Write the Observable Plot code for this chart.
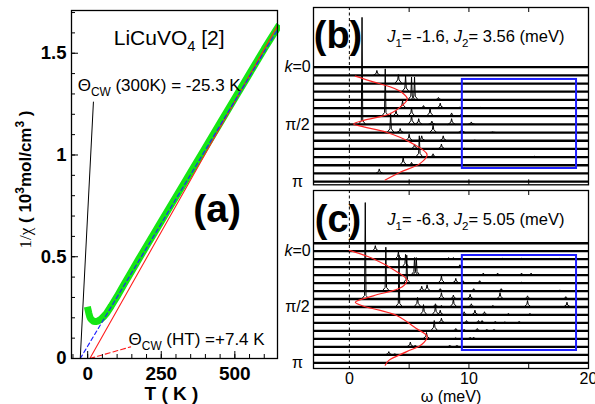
<!DOCTYPE html>
<html><head><meta charset="utf-8">
<script src="https://cdn.jsdelivr.net/npm/d3@7"></script>
<script src="https://cdn.jsdelivr.net/npm/@observablehq/plot@0.6"></script>
<style>
html,body{margin:0;padding:0;background:#fff;overflow:hidden;}
#root{position:relative;width:595px;height:404px;overflow:hidden;background:#fff;}
.panel{position:absolute;}
</style></head><body><div id="root"></div>
<script>
const FONT = "'Liberation Sans', Arial, Helvetica, sans-serif";

// ---------- Panel (a) data ----------
const aT = [1.5, 4, 7, 10, 15, 20, 27, 35, 45, 55, 65, 80, 100, 125, 150, 175, 200, 250, 300, 350, 400, 450, 500, 550, 600, 645];
const aInvChi = [0.238, 0.222, 0.206, 0.196, 0.188, 0.183, 0.181, 0.184, 0.193, 0.207, 0.224, 0.258, 0.305, 0.368, 0.43, 0.492, 0.553, 0.674, 0.795, 0.916, 1.037, 1.158, 1.279, 1.4, 1.521, 1.625];
const aFit300 = [{T: -25.3, v: 0}, {T: 645, v: 1.615}];
const aFitHT = [{T: 7.4, v: 0}, {T: 645, v: 1.635}];
const aLeader300 = [{T: -25.3, v: 0}, {T: 19.5, v: 1.26}];
const aLeaderHT = [{T: 7.4, v: 0}, {T: 146, v: 0.057}];
const aXMinor = [-50, 0, 50, 100, 150, 200, 250, 300, 350, 400, 450, 500, 550, 600];
const aXMajor = [0, 250, 500];
const aYMinor = [0.1, 0.2, 0.3, 0.4, 0.5, 0.6, 0.7, 0.8, 0.9, 1.0, 1.1, 1.2, 1.3, 1.4, 1.5, 1.6, 1.7];
const aYMajor = [0, 0.5, 1, 1.5];
const aNotes = [
  {T: 277, v: 1.575, t: "LiCuVO4 [2]", anchor: "middle"},
  {T: -34, v: 1.342, t: "ΘCW (300K) = -25.3 K", anchor: "start"},
  {T: 139, v: 0.095, t: "ΘCW (HT) =+7.4 K", anchor: "start"}
];

// ---------- Panels (b),(c) data ----------
const bLines = [0, 1, 2, 3, 4, 5, 6, 7, 8, 9, 10, 11, 12, 13, 14];
const cLines = [-1, 0, 1, 2, 3, 4, 5, 6, 7, 8, 9, 10, 11, 12, 13, 14];
const rowLabels = [{row: 0, t: "k=0"}, {row: 7, t: "π/2"}, {row: 14, t: "π"}];
const bPeaks = [
  {row: 1, peaks: [[2.3, 0.6]]},
  {row: 2, peaks: [[4.1, 1.1]]},
  {row: 3, peaks: [[4.7, 2.0]]},
  {row: 4, peaks: [[5.2, 2.8], [5.45, 2.8], [7.45, 0.3], [9.3, 0.1]]},
  {row: 5, peaks: [[4.45, 0.9], [6.2, 0.3], [7.6, 0.6], [9.25, 0.15], [11.0, 0.1]]},
  {row: 6, peaks: [[3.0, 5.8], [3.9, 0.7], [5.2, 1.0], [6.75, 1.0], [8.55, 0.4], [9.3, 0.2]]},
  {row: 7, peaks: [[1.06, 13.1], [5.2, 1.1], [5.8, 0.7], [6.9, 0.4], [8.55, 0.7], [10.2, 0.3]]},
  {row: 8, peaks: [[3.45, 2.4], [4.25, 0.5], [7.0, 0.9], [9.4, 0.45], [12.0, 0.1]]},
  {row: 9, peaks: [[5.0, 0.8], [6.05, 0.6], [7.85, 0.6], [10.5, 0.1]]},
  {row: 10, peaks: [[5.45, 0.6], [7.7, 0.6], [9.6, 0.1]]},
  {row: 11, peaks: [[5.85, 2.6], [7.0, 0.4], [15.5, 0.1]]},
  {row: 12, peaks: [[4.5, 1.0], [5.2, 0.35]]},
  {row: 13, peaks: [[2.5, 0.55]]}
];
const cPeaks = [
  {row: 0, peaks: [[2.17, 0.7]]},
  {row: 1, peaks: [[4.1, 0.9], [8.3, 0.2], [8.7, 0.2], [12.8, 0.1], [14.4, 0.1], [17.6, 0.1]]},
  {row: 2, peaks: [[4.7, 1.6], [9.25, 0.3]]},
  {row: 3, peaks: [[5.45, 2.2], [5.6, 2.2], [11.2, 0.25], [12.4, 0.25], [14.4, 0.25], [15.2, 0.25]]},
  {row: 4, peaks: [[4.8, 3.5], [7.7, 0.9], [8.9, 0.6], [9.5, 0.3], [10.9, 0.3], [14.4, 0.1]]},
  {row: 5, peaks: [[3.05, 5.5], [6.05, 0.6], [6.5, 0.8], [7.6, 0.3], [10.4, 0.3], [12.7, 0.3], [17.6, 0.15]]},
  {row: 6, peaks: [[1.33, 12.1], [7.7, 0.8], [8.7, 0.5], [10.1, 0.6], [12.6, 0.8], [14.9, 0.4], [18.1, 0.3]]},
  {row: 7, peaks: [[4.15, 6.5], [5.7, 1.2], [7.2, 0.4], [7.7, 0.2], [8.7, 1.0], [10.2, 0.4], [12.0, 0.2], [14.9, 0.8], [18.2, 0.6]]},
  {row: 8, peaks: [[6.2, 1.3], [7.2, 1.2], [7.6, 0.6], [9.6, 0.4], [10.5, 0.6], [11.3, 0.4], [13.3, 0.2], [15.1, 0.2]]},
  {row: 9, peaks: [[7.7, 0.6], [9.8, 0.3], [10.8, 0.3], [11.1, 0.3], [12.2, 0.2], [13.0, 0.15], [14.2, 0.2]]},
  {row: 10, peaks: [[7.1, 1.3], [8.9, 0.3], [9.6, 0.2], [10.7, 0.3], [11.5, 0.2], [12.1, 0.2]]},
  {row: 11, peaks: [[6.45, 0.8], [8.9, 0.15], [10.1, 0.2], [10.4, 0.2]]},
  {row: 12, peaks: [[5.1, 0.6], [5.5, 0.2], [8.4, 0.2], [9.0, 0.2]]},
  {row: 13, peaks: [[3.3, 0.4], [3.8, 0.15]]}
];
const bRed = [[0.5, 1.1], [2.0, 1.8], [3.4, 2.4], [4.4, 3.1], [4.85, 3.9], [4.4, 4.7], [3.4, 5.7], [1.2, 6.5], [0.35, 6.95], [1.2, 7.3], [3.1, 7.96], [5.1, 9.2], [6.5, 10.7], [5.9, 11.8], [4.25, 12.85], [3.0, 13.8]];
const cRed = [[0.0, -0.1], [2.0, 0.95], [4.0, 2.6], [4.8, 3.6], [4.4, 4.5], [2.0, 5.6], [0.5, 6.4], [1.2, 6.9], [2.5, 7.4], [4.0, 8.1], [5.6, 9.7], [6.5, 10.7], [6.05, 11.7], [4.8, 12.6], [3.3, 13.7], [3.0, 14.3]];
const bBox = [{x1: 9.45, x2: 19, y1: 1.5, y2: 12.4}];
const cBox = [{x1: 9.45, x2: 19, y1: 0.54, y2: 12.46}];
const wTicks = [5, 10, 15];
const wLabels = [0, 10, 20];

// ---------- helpers ----------
function richify(svg, map) {
  d3.select(svg).selectAll("text").each(function () {
    const key = this.textContent;
    const spec = map[key];
    if (!spec) return;
    const fs = spec.size;
    const el = d3.select(this);
    el.text(null);
    let shift = 0;
    spec.segs.forEach((s) => {
      const ts = el.append("tspan").text(s.t);
      const target = s.sub ? fs * 0.3 : s.sup ? -fs * 0.38 : 0;
      const dy = target - shift;
      shift = target;
      if (dy) ts.attr("dy", dy);
      if (s.sub || s.sup) ts.attr("font-size", fs * 0.7);
      if (s.i) ts.attr("font-style", "italic");
      if (s.f) ts.attr("font-family", s.f);
      if (s.w) ts.attr("font-weight", s.w);
    });
  });
}

function spectrum(panelPeaks) {
  const pts = [];
  for (const {row, peaks} of panelPeaks) {
    peaks.forEach(([w, h], j) => {
      const id = row + ":" + j;
      const s = Math.min(0.45, h * 0.4);
      pts.push({id, x: w - 0.3, y: row}, {id, x: w - 0.06, y: row - s}, {id, x: w, y: row - h},
               {id, x: w + 0.06, y: row - s}, {id, x: w + 0.3, y: row});
    });
  }
  return pts;
}

const root = document.getElementById("root");
function place(svg, left, top, w, h) {
  const d = document.createElement("div");
  d.className = "panel";
  d.style.left = left + "px"; d.style.top = top + "px";
  d.style.width = w + "px"; d.style.height = h + "px";
  d.appendChild(svg);
  root.appendChild(d);
}

// ---------- Panel (a) ----------
const aW = 280, aH = 404, aML = 71, aMR = 3, aMT = 10, aMB = 46;
const aFW = aW - aML - aMR, aFH = aH - aMT - aMB;
const aData = aT.map((T, i) => ({T, v: aInvChi[i]}));
const plotA = Plot.plot({
  width: aW, height: aH,
  marginLeft: aML, marginRight: aMR, marginTop: aMT, marginBottom: aMB,
  x: {domain: [-55, 645], axis: null},
  y: {domain: [0, 1.71], axis: null},
  style: {fontFamily: FONT, background: "white", color: "black", overflow: "visible"},
  marks: [
    Plot.line(aData, {x: "T", y: "v", stroke: "#14e614", strokeWidth: 7, strokeLinecap: "square", strokeLinejoin: "miter"}),
    Plot.line(aFitHT, {x: "T", y: "v", stroke: "#ff1e1e", strokeWidth: 1.1}),
    Plot.line(aFit300, {x: "T", y: "v", stroke: "#2020ff", strokeWidth: 1.2, strokeDasharray: "4,3"}),
    Plot.line(aLeaderHT, {x: "T", y: "v", stroke: "#ff1e1e", strokeWidth: 1.1, strokeDasharray: "5,3"}),
    Plot.line(aLeader300, {x: "T", y: "v", stroke: "black", strokeWidth: 1}),
    Plot.frame({stroke: "black", strokeWidth: 1.3}),
    Plot.tickX(aXMinor, {x: (d) => d, insetTop: aFH - 4, stroke: "black"}),
    Plot.tickX(aXMajor, {x: (d) => d, insetTop: aFH - 7, stroke: "black"}),
    Plot.tickY(aYMinor, {y: (d) => d, insetRight: aFW - 4, stroke: "black"}),
    Plot.tickY(aYMajor, {y: (d) => d, insetRight: aFW - 7, stroke: "black"}),
    Plot.text(aXMajor, {x: (d) => d, frameAnchor: "bottom", lineAnchor: "middle", dy: 15, text: (d) => String(d), fontSize: 19, fontWeight: "bold"}),
    Plot.text(aYMajor, {y: (d) => d, frameAnchor: "left", lineAnchor: "middle", dx: -5, textAnchor: "end", text: (d) => String(d), fontSize: 18.5, fontWeight: "bold"}),
    Plot.text(["T ( K )"], {frameAnchor: "bottom", lineAnchor: "middle", textAnchor: "middle", dx: -3, dy: 35, text: (d) => d, fontSize: 19, fontWeight: "bold"}),
    Plot.text(["1/χ ( 103mol/cm3 )"], {frameAnchor: "left", lineAnchor: "middle", textAnchor: "middle", dx: -46, dy: -5, rotate: -90, text: (d) => d, fontSize: 17, fontWeight: "bold"}),
    Plot.text(aNotes.filter((d) => d.anchor === "middle"), {x: "T", y: "v", text: "t", fontSize: 21, textAnchor: "middle"}),
    Plot.text(aNotes.filter((d) => d.anchor === "start"), {x: "T", y: "v", text: "t", fontSize: 17, textAnchor: "start"}),
    Plot.text(["(a)"], {x: () => 440, y: () => 0.733, text: (d) => d, fontSize: 39, fontWeight: "bold"})
  ]
});
richify(plotA, {
  "LiCuVO4 [2]": {size: 21, segs: [{t: "LiCuVO"}, {t: "4", sub: true}, {t: " [2]"}]},
  "ΘCW (300K) = -25.3 K": {size: 17, segs: [{t: "Θ"}, {t: "CW", sub: true}, {t: " (300K) = -25.3 K"}]},
  "ΘCW (HT) =+7.4 K": {size: 17, segs: [{t: "Θ"}, {t: "CW", sub: true}, {t: " (HT) =+7.4 K"}]},
  "1/χ ( 103mol/cm3 )": {size: 17, segs: [{t: "1/χ", f: "'Liberation Serif', 'Times New Roman', serif", w: "normal"}, {t: " ( 10"}, {t: "3", sup: true}, {t: "mol/cm"}, {t: "3", sup: true}, {t: " )"}]}
});
place(plotA, 0, 0, aW, aH);

// ---------- Panels (b), (c) ----------
function specPanel(o) {
  const W = 315, ML = 33, MR = 7;
  const FH = o.height - o.mt - o.mb;
  const svg = Plot.plot({
    width: W, height: o.height,
    marginLeft: ML, marginRight: MR, marginTop: o.mt, marginBottom: o.mb,
    x: {domain: [-3, 20], axis: null},
    y: {domain: o.yDomain, axis: null},
    style: {fontFamily: FONT, background: "white", color: "black", overflow: "visible"},
    marks: [
      Plot.ruleY(o.lines, {y: (d) => d, stroke: "black", strokeWidth: 2.3}),
      Plot.ruleX([0], {stroke: "black", strokeWidth: 1, strokeDasharray: "3,2.5"}),
      Plot.line(spectrum(o.peaks), {x: "x", y: "y", z: "id", stroke: "black", strokeWidth: 1}),
      Plot.line(o.red, {x: (d) => d[0], y: (d) => d[1], curve: "catmull-rom", stroke: "#ff2424", strokeWidth: 1.2}),
      Plot.rect(o.box, {x1: "x1", x2: "x2", y1: "y1", y2: "y2", fill: "none", stroke: "#1e1eff", strokeWidth: 2}),
      Plot.frame({stroke: "black", strokeWidth: 1.3}),
      Plot.tickX(wTicks, {x: (d) => d, insetBottom: FH - 5, stroke: "black"}),
      Plot.tickX(wTicks, {x: (d) => d, insetTop: FH - 5, stroke: "black"}),
      Plot.text(rowLabels, {y: "row", text: "t", frameAnchor: "left", lineAnchor: "middle", dx: -16, textAnchor: "middle", fontSize: 16}),
      Plot.text([o.label], {x: () => -0.95, y: () => o.labelRow, text: (d) => d, fontSize: 38, fontWeight: "bold"}),
      Plot.text([o.jtext], {x: () => 10.58, y: () => o.jRow, text: (d) => d, fontSize: 16.5}),
      ...(o.xlabels ? [
        Plot.text(wLabels, {x: (d) => d, frameAnchor: "bottom", lineAnchor: "middle", dy: 10.5, text: (d) => String(d), fontSize: 16}),
        Plot.text(["ω (meV)"], {frameAnchor: "bottom", lineAnchor: "middle", textAnchor: "middle", dy: 28, text: (d) => d, fontSize: 16})
      ] : [])
    ]
  });
  const map = {"k=0": {size: 16, segs: [{t: "k", i: true}, {t: "=0"}]}};
  map[o.jtext] = {size: 16.5, segs: [{t: "J", i: true}, {t: "1", sub: true}, {t: o.j1}, {t: "J", i: true}, {t: "2", sub: true}, {t: o.j2}]};
  richify(svg, map);
  return svg;
}

const plotB = specPanel({
  height: 188, mt: 7, mb: 3.7, yDomain: [14.394, -7.307],
  lines: bLines, peaks: bPeaks, red: bRed, box: bBox,
  label: "(b)", labelRow: -3.88, jtext: "J1= -1.6, J2= 3.56 (meV)", j1: "= -1.6, ", j2: "= 3.56 (meV)", jRow: -3.67,
  xlabels: false
});
place(plotB, 280, 0, 315, 188);

const plotC = specPanel({
  height: 216, mt: 2, mb: 36, yDomain: [14.718, -7.616],
  lines: cLines, peaks: cPeaks, red: cRed, box: cBox,
  label: "(c)", labelRow: -3.98, jtext: "J1= -6.3, J2= 5.05 (meV)", j1: "= -6.3, ", j2: "= 5.05 (meV)", jRow: -3.98,
  xlabels: true
});
place(plotC, 280, 188, 315, 216);
</script>
</body></html>
